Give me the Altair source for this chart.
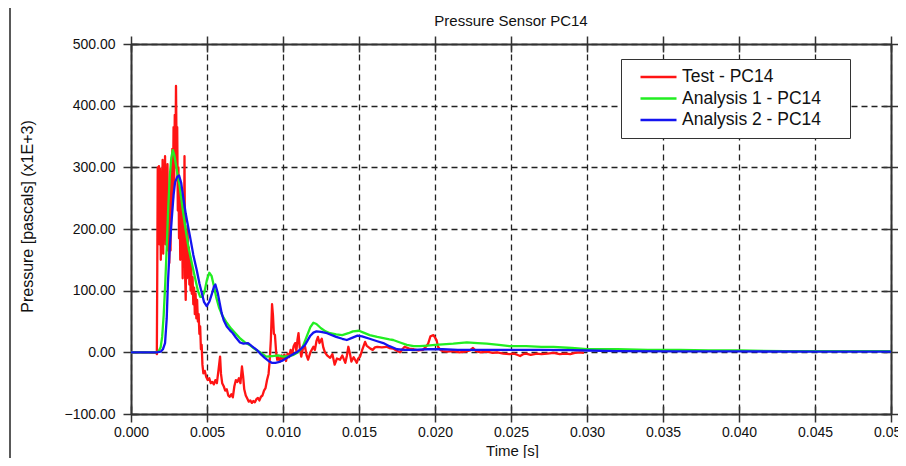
import altair as alt
import pandas as pd

chart_title = "Pressure Sensor PC14"
x_title = "Time [s]"
y_title = "Pressure [pascals] (x1E+3)"
series_names = ["Test - PC14", "Analysis 1 - PC14", "Analysis 2 - PC14"]
series_colors = ["#ff1414", "#22ee22", "#1414f0"]
x_ticks = [0.000, 0.005, 0.010, 0.015, 0.020, 0.025, 0.030, 0.035, 0.040, 0.045, 0.050]
y_ticks = [-100, 0, 100, 200, 300, 400, 500]

# Test - PC14 (time in ms, pressure x1E+3 Pa)
test_t_ms = [0.0, 0.8, 1.3, 1.66, 1.70, 1.73, 1.76, 1.80, 1.84, 1.88, 1.92, 1.96, 2.00, 2.04, 2.08, 2.12,
             2.16, 2.20, 2.24, 2.28, 2.32, 2.36, 2.40, 2.44, 2.48, 2.52, 2.56, 2.60, 2.64, 2.68, 2.72, 2.76,
             2.80, 2.84, 2.88, 2.92, 2.96, 3.00, 3.04, 3.08, 3.12, 3.16, 3.20, 3.24, 3.28, 3.32, 3.36, 3.40,
             3.44, 3.48, 3.52, 3.56, 3.60, 3.64, 3.68, 3.72, 3.76, 3.80, 3.84, 3.88, 3.92, 3.96, 4.00, 4.05,
             4.10, 4.15, 4.20, 4.25, 4.30, 4.35, 4.40, 4.45, 4.50, 4.55, 4.60, 4.65, 4.70, 4.76, 4.85, 4.95,
             5.05, 5.15, 5.25, 5.35, 5.45, 5.55, 5.65, 5.75, 5.86, 5.92, 6.00, 6.10, 6.20, 6.30, 6.40, 6.50,
             6.60, 6.70, 6.80, 6.90, 7.00, 7.10, 7.20, 7.30, 7.38, 7.45, 7.55, 7.65, 7.75, 7.85, 7.95, 8.05,
             8.15, 8.25, 8.35, 8.45, 8.55, 8.65, 8.75, 8.85, 8.95, 9.05, 9.12, 9.20, 9.28, 9.34, 9.40, 9.47,
             9.55, 9.62, 9.70, 9.80, 9.90, 10.00, 10.10, 10.20, 10.30, 10.40, 10.50, 10.60, 10.70, 10.80, 10.88, 10.95,
             11.02, 11.10, 11.20, 11.30, 11.45, 11.55, 11.65, 11.80, 12.00, 12.10, 12.20, 12.30, 12.40, 12.55, 12.65, 12.76,
             12.90, 13.10, 13.25, 13.40, 13.55, 13.75, 13.90, 14.10, 14.20, 14.30, 14.40, 14.50, 14.65, 14.85, 14.95, 15.07,
             15.20, 15.30, 15.40, 15.50, 15.60, 15.75, 15.90, 16.05, 16.20, 16.50, 16.80, 17.00, 17.25, 17.45, 17.70, 17.85,
             18.00, 18.30, 18.60, 18.90, 19.20, 19.40, 19.55, 19.70, 19.90, 20.10, 20.20, 20.35, 20.50, 20.80, 21.20, 21.60,
             22.00, 22.30, 22.50, 22.70, 23.00, 23.40, 23.80, 24.10, 24.50, 24.90, 25.20, 25.40, 25.60, 25.80, 26.00, 26.30,
             26.70, 27.00, 27.40, 27.80, 28.20, 28.60, 28.90, 29.20, 29.50, 29.80]
test_v = [0, 0.5, -0.5, 0, -3, 140, 300, 235, 302, 175, 298, 150, 285, 205, 312, 160,
          300, 225, 318, 175, 290, 215, 305, 165, 265, 145, 240, 165, 300, 220, 330, 250,
          365, 275, 385, 300, 432, 325, 365, 230, 300, 185, 265, 150, 245, 160, 215, 120,
          255, 150, 318, 125, 85, 185, 120, 205, 130, 170, 110, 155, 100, 140, 95, 122,
          78, 105, 62, 95, 55, 85, 50, 62, 30, 42, 5, 12, -20, -34, -30, -40,
          -45, -42, -50, -48, -52, -45, -50, -30, -7, -35, -50, -55, -62, -60, -70, -72,
          -68, -73, -55, -45, -48, -42, -50, -23, -40, -60, -70, -75, -80, -78, -82, -79,
          -81, -76, -74, -78, -72, -70, -62, -58, -45, -35, -15, 20, 78, 60, 30, 28,
          0, -12, -8, -15, -5, -12, -4, -14, -2, -8, 4, -3, 10, 15, 2, 20,
          31, 8, -7, 5, 9, -5, -12, 0, 9, 4, 18, 25, 15, 22, 8, 0,
          -5, -9, -3, -20, -10, -12, -5, -17, -6, 9, -2, -15, -8, -17, -10, -7,
          3, 10, 17, 11, 9, 6, 4, 8, 9, 8, 9, 7, 6, 3, 0, 5,
          9, 6, 5, 3, 4, 9, 14, 26, 28, 20, 9, 4, 2, 1, 2, 0,
          1, 3, 7, 2, 0, 1, -1, 0, -2, -3, -2, -4, -6, -3, -2, -4,
          -2, -3, -2, -1, -3, -2, -3, -1, 0, -1]

# Analysis 1 - PC14
an1_t_ms = [0, 1.0, 1.6, 1.8, 1.95, 2.05, 2.15, 2.25, 2.35, 2.45, 2.55, 2.65, 2.75, 2.85, 2.95, 3.05,
            3.2, 3.4, 3.6, 3.8, 4.0, 4.2, 4.4, 4.55, 4.7, 4.85, 5.0, 5.15, 5.3, 5.45, 5.6, 5.8,
            6.0, 6.3, 6.6, 6.9, 7.2, 7.5, 7.8, 8.1, 8.5, 8.9, 9.3, 9.7, 10.0, 10.4, 10.7, 11.0,
            11.3, 11.55, 11.8, 12.0, 12.2, 12.5, 12.8, 13.1, 13.5, 13.9, 14.3, 14.6, 15.0, 15.3, 15.7, 16.2,
            16.6, 17.0, 17.25, 17.7, 18.15, 18.6, 19.0, 19.5, 20.0, 20.5, 21.2, 22.1, 22.8, 23.4, 24.2, 24.9,
            26.0, 27.0, 27.8, 29.0, 30.0, 32.0, 34.0, 36.1, 38.0, 40.0, 43.0, 46.0, 50.0]
an1_v = [0, 0, 0, 1, 8, 25, 60, 110, 170, 235, 285, 315, 328, 320, 305, 290,
         270, 232, 198, 168, 145, 122, 100, 90, 90, 100, 118, 129, 124, 108, 90, 72,
         60, 48, 38, 30, 22, 16, 12, 6, 0, -7, -6, -5, -7, -6, -4, 0,
         9, 25, 41, 48, 46, 39, 34, 31, 29, 28, 31, 34, 35, 32, 28, 25,
         23, 21, 20, 16, 12, 10, 10, 11, 12, 13, 14, 16, 15, 14, 12, 10,
         10, 9, 9, 7, 5, 5, 4, 4, 3, 3, 2, 2, 2]

# Analysis 2 - PC14
an2_t_ms = [0, 1.0, 1.7, 1.95, 2.1, 2.24, 2.35, 2.43, 2.55, 2.68, 2.8, 2.9, 3.05, 3.16, 3.3, 3.42,
            3.6, 3.75, 3.88, 4.1, 4.32, 4.5, 4.65, 4.8, 4.98, 5.15, 5.3, 5.45, 5.55, 5.7, 5.85, 5.96,
            6.1, 6.3, 6.5, 6.7, 6.9, 7.17, 7.4, 7.7, 7.95, 8.27, 8.5, 8.8, 9.05, 9.26, 9.5, 9.7,
            10.0, 10.24, 10.6, 10.9, 11.2, 11.45, 11.8, 12.0, 12.2, 12.5, 12.9, 13.5, 13.9, 14.2, 14.5, 14.9,
            15.2, 15.7, 16.2, 16.6, 17.0, 17.5, 18.0, 18.6, 19.5, 20.5, 21.5, 23.0, 25.0, 27.0, 29.0, 30.0,
            32.0, 36.0, 40.0, 45.0, 50.0]
an2_v = [0, 0, 0, 1, 5, 15, 55, 113, 170, 216, 255, 276, 285, 287, 275, 254,
         225, 205, 188, 158, 134, 112, 97, 82, 75, 82, 93, 106, 110, 97, 78, 64,
         52, 42, 36, 31, 24, 16, 14, 15, 10, 4, -2, -9, -14, -17, -17, -16,
         -13, -9, -4, 0, 6, 12, 27, 32, 34, 33, 31, 25, 22, 20, 23, 27,
         26, 22, 18, 15, 10, 5, 4, 4, 5, 5, 4, 4, 4, 4, 3.5, 3,
         2, 1.5, 1.5, 1, 1]

rows = []
for name, ts, vs in [(series_names[0], test_t_ms, test_v),
                     (series_names[1], an1_t_ms, an1_v),
                     (series_names[2], an2_t_ms, an2_v)]:
    for t, v in zip(ts, vs):
        rows.append({"series": name, "t": t / 1000.0, "v": v})
df = pd.DataFrame(rows)

frame_df = pd.DataFrame({"t": [x_ticks[0], x_ticks[-1]], "v": [y_ticks[0], y_ticks[-1]]})
one_df = pd.DataFrame({"a": [0]})

FONT = "Liberation Sans"
DARK = "#333333"

xs = alt.Scale(domain=[x_ticks[0], x_ticks[-1]], nice=False, zero=False)
ys = alt.Scale(domain=[y_ticks[0], y_ticks[-1]], nice=False, zero=False)

grid_style = dict(grid=True, gridColor="#222222", gridWidth=1.3, gridDash=[6, 4])
tick_style = dict(ticks=True, tickSize=8, tickColor=DARK, tickWidth=1.5,
                  domainColor=DARK, domainWidth=2)

lines = alt.Chart(df).mark_line(strokeWidth=2.3, strokeJoin="round").encode(
    x=alt.X("t:Q", scale=xs, axis=alt.Axis(
        orient="bottom", values=x_ticks, format=".3f", title=x_title,
        labelFont=FONT, labelFontSize=14, labelColor="#111111", labelPadding=3,
        labelFlush=False, labelOverlap=False,
        titleFont=FONT, titleFontSize=15, titleFontWeight="normal", titleColor="#111111",
        titleX=381, titleY=36, titleBaseline="middle", titleAlign="center",
        domain=True, **tick_style, **grid_style)),
    y=alt.Y("v:Q", scale=ys, axis=alt.Axis(
        orient="left", values=y_ticks, format=".2f", title=y_title,
        labelFont=FONT, labelFontSize=14, labelColor="#111111", labelPadding=8,
        labelFlush=False, labelOverlap=False,
        titleFont=FONT, titleFontSize=16, titleFontWeight="normal", titleColor="#111111",
        titleX=-104, titleY=172, titleBaseline="middle", titleAlign="center", titleAngle=270,
        domain=True, **tick_style, **grid_style)),
    color=alt.Color("series:N", sort=series_names,
                    scale=alt.Scale(domain=series_names, range=series_colors),
                    legend=alt.Legend(
                        orient="none", legendX=490, legendY=15, title=" ",
                        titleOrient="right", titlePadding=21, titleFontSize=4,
                        symbolType="stroke", symbolSize=1296, symbolStrokeWidth=2.5,
                        clipHeight=20, rowPadding=1.5, symbolOffset=10, labelOffset=4,
                        labelFont=FONT, labelFontSize=17.5, labelColor="#111111",
                        padding=8, strokeColor=DARK, fillColor="white")),
)


def aux_axes(xorient, yorient, offset, domain):
    return alt.Chart(frame_df).mark_point(opacity=0).encode(
        x=alt.X("t:Q", scale=xs, axis=alt.Axis(
            orient=xorient, values=x_ticks, labels=False, title=None, grid=False,
            offset=offset, domain=domain, **tick_style)),
        y=alt.Y("v:Q", scale=ys, axis=alt.Axis(
            orient=yorient, values=y_ticks, labels=False, title=None, grid=False,
            offset=offset, domain=domain, **tick_style)),
    )


outer = aux_axes("top", "right", 0, True)
inner_bl = aux_axes("bottom", "left", -8, False)
inner_tr = aux_axes("top", "right", -8, False)

border = alt.Chart(one_df).mark_rule(color="#222222", strokeWidth=1.5).encode(
    x=alt.value(-121), y=alt.value(-36), y2=alt.value(414))

title_text = alt.Chart(one_df).mark_text(
    text=chart_title, font=FONT, fontSize=15, fontWeight="normal", color="#111111",
    align="center", baseline="alphabetic"
).encode(x=alt.value(380), y=alt.value(-18))

chart = alt.layer(lines, outer, inner_bl, inner_tr, border, title_text).resolve_axis(
    x="independent", y="independent"
).properties(
    width=760, height=370,
    autosize=alt.AutoSizeParams(type="none"),
    padding={"left": 123, "top": 36, "right": 7, "bottom": 44},
).configure_view(stroke=None).configure(background="white")

chart.save("out.html", embed_options={"renderer": "svg", "actions": False})
